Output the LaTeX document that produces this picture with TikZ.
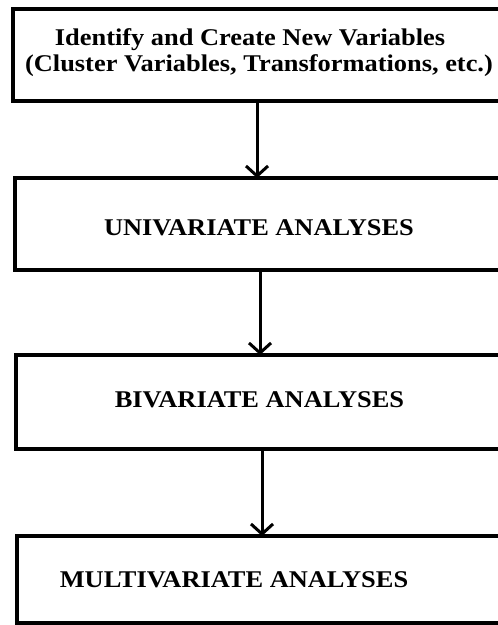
\documentclass[tikz,border=0pt]{standalone}
\usepackage{fontspec}
\setmainfont{Liberation Serif}
\newfontfamily\boxfont[FakeStretch=1.1]{Liberation Serif}
\usetikzlibrary{arrows.meta}
\begin{document}
\begin{tikzpicture}[x=1bp,y=-1bp,
  box/.style={draw,line width=3.2bp,anchor=north west,inner sep=0pt,outer sep=0pt,minimum width=500bp},
  lbl/.style={anchor=base,inner sep=0pt,font=\boxfont\bfseries\fontsize{24bp}{28bp}\selectfont},
  arr/.style={line width=3bp,-{Straight Barb[length=10bp,width=22bp]}}]
\fill[white] (0,0) rectangle (498,625);
\useasboundingbox (0,0) rectangle (498,625);
\node[box,minimum height=92bp] (b1) at (13,9) {};
\node[box,minimum height=92bp] (b2) at (15,178) {};
\node[box,minimum height=94bp] (b3) at (16,355) {};
\node[box,minimum height=87bp] (b4) at (17,536) {};
\node[lbl] (t1a) at (250,46) {Identify and Create New Variables};
\node[lbl] (t1b) at (259,72) {(Cluster Variables, Transformations, etc.)};
\node[lbl] (t2) at (259,235) {UNIVARIATE ANALYSES};
\node[lbl] (t3) at (259.5,407) {BIVARIATE ANALYSES};
\node[lbl] (t4) at (234,587) {MULTIVARIATE ANALYSES};
\draw[arr] (b1.south -| 257,0) -- (b2.north -| 257,0);
\draw[arr] (b2.south -| 260,0) -- (b3.north -| 260,0);
\draw[arr] (b3.south -| 262,0) -- (b4.north -| 262,0);
\end{tikzpicture}
\end{document}
